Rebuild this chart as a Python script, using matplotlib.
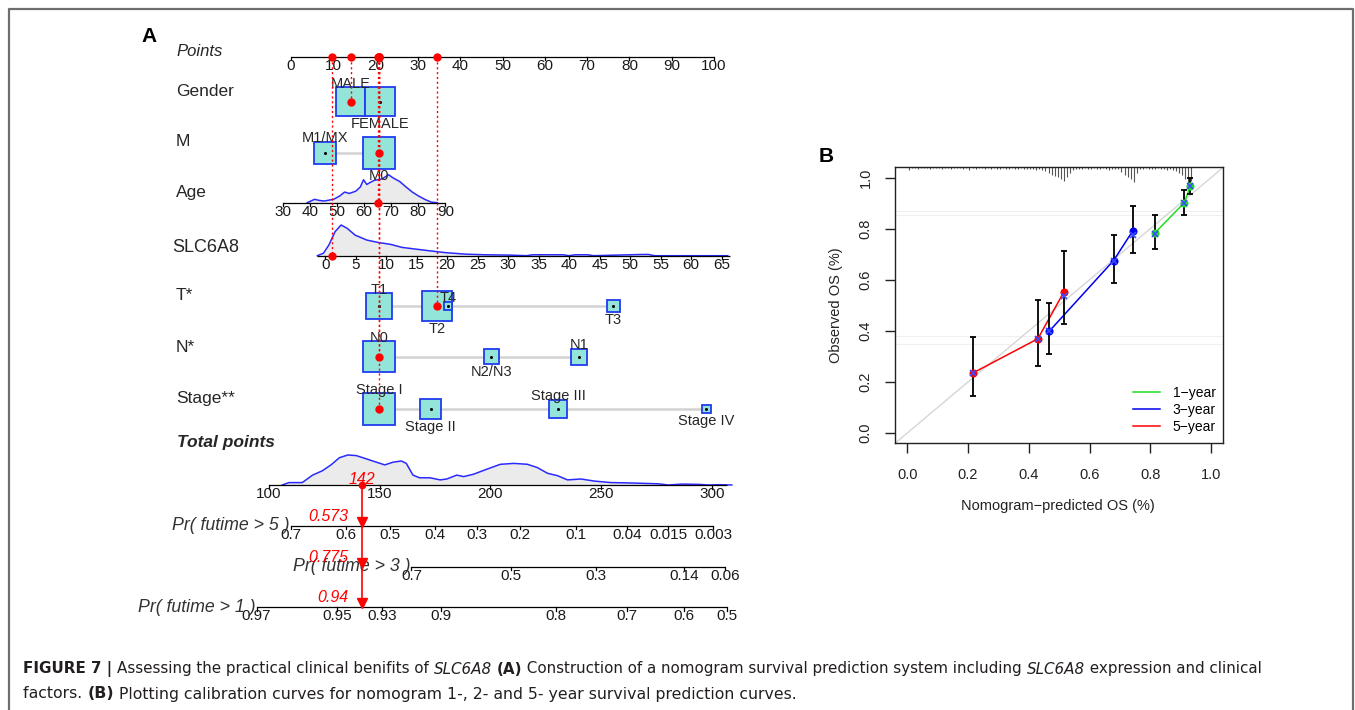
import numpy as np
import matplotlib
matplotlib.use('Agg')
import matplotlib.pyplot as plt
from matplotlib.patches import Rectangle
from matplotlib.lines import Line2D

plt.rcParams['font.family'] = ['Liberation Sans', 'DejaVu Sans']

W, H = 1355, 710

# ---------------- nomogram data (panel A) ----------------
points_ticks = list(range(0, 101, 10))

gender_names = ['MALE', 'FEMALE']
gender_pts = [14.1, 21.0]
gender_w = [0.83, 0.88]          # relative group size (box area)

m_names = ['M1/MX', 'M0']
m_pts = [8.1, 20.8]
m_w = [0.51, 1.0]

age_ticks = [30, 40, 50, 60, 70, 80, 90]
age_zero = 33.0                  # age that scores 0 points
age_slope = 0.64                 # points per year
age_grid = [39, 41.7, 43.5, 45.2, 48.7, 51, 52.8, 54.5, 56.9, 58.6, 59.8, 61, 62,
            63.8, 66.7, 69, 70.8, 73.1, 75.5, 77.8, 80.1, 82.4, 84.8, 87.1]
age_dens = [0, .12, .08, .06, .12, .24, .38, .33, .41, .56, .82, .65, .71,
            .80, .85, 1.0, .88, .76, .56, .38, .24, .12, .02, 0]

slc_ticks = list(range(0, 66, 5))
slc_offset = 8.1
slc_slope = 1.4415
slc_range = (-1.3, 66.3)
slc_grid = [-1.3, -0.3, 0.6, 1.6, 2.6, 3.6, 4.9, 6.8, 8.7, 10.7, 12.6, 14.6, 17.1,
            19.7, 23, 26.2, 30.1, 33, 34, 39, 40, 41, 43, 44, 52, 53, 54, 66]
slc_dens = [0, .08, .35, .78, 1.0, .89, .67, .51, .43, .37, .27, .22, .16,
            .10, .05, .03, .02, 0, .03, .03, 0, .03, .03, 0, .04, .04, 0, 0]

t_names = ['T1', 'T2', 'T4', 'T3']
t_pts = [20.8, 34.5, 37.1, 76.2]
t_w = [0.64, 0.92, 0.075, 0.17]

n_names = ['N0', 'N2/N3', 'N1']
n_pts = [20.8, 47.3, 68.1]
n_w = [1.0, 0.225, 0.26]

stage_names = ['Stage I', 'Stage II', 'Stage III', 'Stage IV']
stage_pts = [20.8, 33.0, 63.2, 98.2]
stage_w = [1.0, 0.42, 0.34, 0.082]

total_ticks = [100, 150, 200, 250, 300]
total_range = (100, 307)
total_x0 = -5.2                  # total 100 expressed on the points scale
total_slope = 0.5235
total_grid = [106, 109, 115, 119.7, 124, 128, 131.8, 135.6, 139.4, 144, 148.5, 152.3,
              156, 159.8, 162, 165, 168, 172.7, 177.3, 180.3, 184.8, 187.9, 192.4,
              198.5, 204.5, 210.6, 216.7, 221.2, 225.8, 230.3, 234.8, 240.9, 247,
              254.5, 262, 275.8, 280.3, 286.4, 294, 298.5, 303, 309]
total_dens = [0, .08, .08, .33, .47, .67, .91, 1.0, .98, .87, .76, .67,
              .76, .80, .72, .33, .24, .24, .17, .20, .33, .28, .36,
              .53, .69, .72, .69, .58, .39, .31, .17, .20, .13,
              .08, .07, .04, 0, .03, .02, 0, .01, 0]

pr5_labels = ['0.7', '0.6', '0.5', '0.4', '0.3', '0.2', '0.1', '0.04', '0.015', '0.003']
pr5_total = [110, 134.7, 154.5, 174.9, 193.9, 213.5, 238.6, 261.7, 280.3, 300.6]
pr3_labels = ['0.7', '0.5', '0.3', '0.14', '0.06']
pr3_total = [164.3, 209.1, 247.5, 287.3, 305.9]
pr1_labels = ['0.97', '0.95', '0.93', '0.9', '0.8', '0.7', '0.6', '0.5']
pr1_total = [94.4, 130.7, 151, 177.6, 229.8, 261.7, 287.3, 306.8]

# example patient
pat_gender = 'MALE'
pat_m = 'M0'
pat_age = 65
pat_slc = 1.1
pat_t = 'T2'
pat_n = 'N0'
pat_stage = 'Stage I'
pat_total = 142
pat_surv = [0.573, 0.775, 0.94]   # 5-, 3-, 1-year

# ---------------- calibration data (panel B) ----------------
cal1_pred = [0.814, 0.912, 0.931]
cal1_obs = [0.782, 0.902, 0.965]
cal1_lo = [0.720, 0.854, 0.936]
cal1_hi = [0.853, 0.952, 0.997]
cal1_corr = [0.780, 0.900, 0.965]

cal3_pred = [0.467, 0.679, 0.742]
cal3_obs = [0.398, 0.675, 0.791]
cal3_lo = [0.310, 0.589, 0.704]
cal3_hi = [0.508, 0.776, 0.887]
cal3_corr = [0.398, 0.675, 0.776]

cal5_pred = [0.216, 0.430, 0.515]
cal5_obs = [0.235, 0.369, 0.551]
cal5_lo = [0.146, 0.261, 0.426]
cal5_hi = [0.375, 0.519, 0.711]
cal5_corr = [0.235, 0.369, 0.535]

# distribution of predicted values (counts per 0.01 bin, 0.00 - 0.93)
rug_counts = [3, 1, 1, 2, 1, 1, 1, 2, 1, 1,
              1, 2, 1, 1, 2, 1, 1, 1, 2, 1,
              3, 1, 2, 1, 1, 2, 1, 2, 1, 2,
              2, 1, 2, 2, 1, 2, 2, 1, 2, 2,
              2, 2, 3, 2, 3, 4, 6, 8, 9, 10,
              12, 14, 10, 6, 3, 2, 2, 2, 1, 2,
              2, 1, 2, 2, 1, 2, 3, 2, 2, 2,
              5, 8, 10, 12, 15, 6, 2, 2, 1, 2,
              2, 2, 1, 2, 2, 3, 2, 3, 4, 6,
              8, 12, 20, 14]

# ---------------- figure ----------------
fig = plt.figure(figsize=(W / 100, H / 100), dpi=100)
fig.patch.set_facecolor('white')


def fx(x):
    return x / W


def fy(y):
    return 1 - y / H


# outer frame (open at the bottom)
fig.add_artist(Line2D([fx(9), fx(9), fx(1353), fx(1353)], [fy(712), fy(9), fy(9), fy(712)],
                      transform=fig.transFigure, color='#6e6e6e', lw=1.6))

# ---- panel A: x in nomogram points, y in pixels ----
P0, PPP = 291.0, 4.23          # pixel of 0 points, pixels per point


def px2pt(px):
    return (px - P0) / PPP


axA = fig.add_axes([fx(130), fy(640), 630 / W, 620 / H])
axA.set_xlim(px2pt(130), px2pt(760))
axA.set_ylim(640, 20)
axA.axis('off')

TXT = '#262626'
BOX_FC = '#93E5DA'
BOX_EC = '#1f3cf0'
BOX_MAX = 31.4
DENS_LINE = '#2a2aff'
DENS_FILL = '#ebebeb'

Y = dict(points=56.5, gender=101.7, m=152.8, age=202.7, slc=255.7, t=306, n=356.7,
         stage=409, total=485, pr5=525.7, pr3=566.7, pr1=607)


def age_pts(a):
    return age_slope * (np.asarray(a, float) - age_zero)


def slc_pts(v):
    return slc_offset + slc_slope * np.asarray(v, float)


def tot_x(t):
    return total_x0 + total_slope * (np.asarray(t, float) - 100)


def nomo_axis(y, x0, x1, tick_x, tick_lab, fs=11):
    axA.plot([x0, x1], [y, y], color='black', lw=0.9, solid_capstyle='butt', zorder=3)
    for tx, tl in zip(tick_x, tick_lab):
        axA.plot([tx, tx], [y, y + 3.5], color='black', lw=0.9, zorder=3)
        axA.text(tx, y + 9.5, tl, ha='center', va='center', fontsize=fs, color='#1a1a1a')


def row_label(y, s, px=176, **kw):
    axA.text(px2pt(px), y, s, ha='left', va='center', color=TXT, **kw)


def cat_row(y, names, pts, weights):
    axA.plot([min(pts), max(pts)], [y, y], color='#d2d2d2', lw=1.8, zorder=1)
    order = np.argsort(pts)
    for rank, i in enumerate(order):
        side = BOX_MAX * np.sqrt(weights[i])
        hw = side / 2 / PPP
        axA.add_patch(Rectangle((pts[i] - hw, y - side / 2), 2 * hw, side,
                                fc=BOX_FC, ec=BOX_EC, lw=1.3, zorder=2))
        axA.plot(pts[i], y, 'o', color='black', ms=1.2, zorder=2.5)
        if rank % 2 == 0:
            axA.text(pts[i], y - side / 2 + 0.5, names[i], ha='center', va='baseline',
                     fontsize=10.5, color=TXT, zorder=4)
        else:
            axA.text(pts[i], y + side / 2 + 0.5, names[i], ha='center', va='top',
                     fontsize=10.5, color=TXT, zorder=4)


def density(y, xs, rel, peak):
    xs = np.asarray(xs, float)
    top = y - np.asarray(rel, float) * peak
    axA.fill_between(xs, y, top, color=DENS_FILL, lw=0, zorder=1)
    axA.plot(xs, top, color=DENS_LINE, lw=1.1, zorder=2)


# panel letter
fig.text(fx(149), fy(36), 'A', fontsize=15, fontweight='bold', ha='center', va='center')

# Points
row_label(52, 'Points', fontsize=12, fontstyle='italic')
nomo_axis(Y['points'], 0, 100, points_ticks, [str(p) for p in points_ticks])

# Gender / M
row_label(91, 'Gender', fontsize=12.5)
cat_row(Y['gender'], gender_names, gender_pts, gender_w)
row_label(142, 'M', fontsize=12.5)
cat_row(Y['m'], m_names, m_pts, m_w)

# Age
row_label(193, 'Age', fontsize=12.5)
density(Y['age'], age_pts(age_grid), age_dens, 28)
nomo_axis(Y['age'], age_pts(age_ticks[0]), age_pts(age_ticks[-1]), age_pts(age_ticks),
          [str(a) for a in age_ticks])

# SLC6A8
row_label(247, 'SLC6A8', px=172, fontsize=13)
density(Y['slc'], slc_pts(slc_grid), slc_dens, 30.7)
nomo_axis(Y['slc'], slc_pts(slc_range[0]), slc_pts(slc_range[1]), slc_pts(slc_ticks),
          [str(v) for v in slc_ticks])

# T / N / Stage
row_label(295, 'T*', fontsize=12.5)
cat_row(Y['t'], t_names, t_pts, t_w)
row_label(347, 'N*', fontsize=12.5)
cat_row(Y['n'], n_names, n_pts, n_w)
row_label(398, 'Stage**', fontsize=12.5)
cat_row(Y['stage'], stage_names, stage_pts, stage_w)

# Total points
row_label(442, 'Total points', px=177, fontsize=12.5, fontweight='bold', fontstyle='italic')
density(Y['total'], tot_x(total_grid), total_dens, 30)
nomo_axis(Y['total'], tot_x(total_range[0]), tot_x(total_range[1]), tot_x(total_ticks),
          [str(t) for t in total_ticks])

# survival probability scales
for key, labs, tots, name in [('pr5', pr5_labels, pr5_total, 'Pr( futime > 5 )'),
                              ('pr3', pr3_labels, pr3_total, 'Pr( futime > 3 )'),
                              ('pr1', pr1_labels, pr1_total, 'Pr( futime > 1 )')]:
    xs = tot_x(tots)
    nomo_axis(Y[key], xs[0], xs[-1], xs, labs)
    axA.text(xs[0] - 0.3, Y[key], name, ha='right', va='center', fontsize=12.8,
             fontstyle='italic', color='#333333')

# patient: red points and dotted guides
pat_points = [
    (gender_pts[gender_names.index(pat_gender)], Y['gender']),
    (m_pts[m_names.index(pat_m)], Y['m']),
    (float(age_pts(pat_age)), Y['age']),
    (float(slc_pts(pat_slc)), Y['slc']),
    (t_pts[t_names.index(pat_t)], Y['t']),
    (n_pts[n_names.index(pat_n)], Y['n']),
    (stage_pts[stage_names.index(pat_stage)], Y['stage']),
]
for px_, py_ in pat_points:
    axA.plot([px_, px_], [Y['points'], py_], color='red', lw=1.0, ls=(0, (1.5, 2)), zorder=5)
    axA.plot(px_, py_, 'o', color='red', ms=5, zorder=6)
    axA.plot(px_, Y['points'], 'o', color='red', ms=5, zorder=6)

xt = float(tot_x(pat_total))
axA.plot([xt, xt], [Y['total'], Y['pr1']], color='red', lw=1.2, zorder=5)
axA.plot(xt, Y['total'], 'o', color='red', ms=4.5, zorder=6)
axA.text(xt, Y['total'] - 6, str(pat_total), ha='center', va='center', fontsize=11.5,
         fontstyle='italic', color='red', zorder=7)
for key, p in zip(['pr5', 'pr3', 'pr1'], pat_surv):
    axA.plot(xt, Y[key] - 4.2, 'v', color='red', ms=6.5, zorder=6)
    axA.text(xt - 3.3, Y[key] - 9, f'{p:g}', ha='right', va='center', fontsize=11.5,
             fontstyle='italic', color='red', zorder=7)

# ---- panel B: calibration ----
axB = fig.add_axes([fx(895), fy(443.3), 328.3 / W, 276 / H])
lim = (-0.04, 1.04)
axB.set_xlim(lim)
axB.set_ylim(lim)
axB.plot(lim, lim, color='#d6d6d6', lw=1.0, zorder=1)
for yy in [0.868, 0.852, 0.381, 0.349]:
    axB.axhline(yy, color='#f0f0f0', lw=0.8, zorder=0)

rug_x = np.arange(len(rug_counts)) * 0.01 + 0.005
rug_h = np.asarray(rug_counts) * 0.0039
axB.vlines(rug_x, lim[1] - rug_h, lim[1], color='#555555', lw=0.8, zorder=2)

GREEN, BLUE, RED = '#22dd22', '#0000ee', '#ff0000'
for pred, obs, lo, hi, corr, col in [
        (cal1_pred, cal1_obs, cal1_lo, cal1_hi, cal1_corr, GREEN),
        (cal3_pred, cal3_obs, cal3_lo, cal3_hi, cal3_corr, BLUE),
        (cal5_pred, cal5_obs, cal5_lo, cal5_hi, cal5_corr, RED)]:
    pred, obs, lo, hi = map(np.asarray, (pred, obs, lo, hi))
    axB.plot(pred, obs, color=col, lw=1.1, zorder=3)
    axB.errorbar(pred, obs, yerr=[obs - lo, hi - obs], fmt='none', ecolor='black',
                 elinewidth=1.3, capsize=2.5, capthick=1.3, zorder=4)
    axB.plot(pred, obs, 'o', color=col, ms=4.8, zorder=5)
    axB.plot(pred, corr, 'x', color='#3a4cff', ms=5, mew=1.2, zorder=6)

ticks = [0.0, 0.2, 0.4, 0.6, 0.8, 1.0]
axB.set_xticks(ticks)
axB.set_xticklabels([f'{t:.1f}' for t in ticks])
axB.set_yticks(ticks)
axB.set_yticklabels([f'{t:.1f}' for t in ticks], rotation=90, va='center')
axB.tick_params(direction='out', length=7, width=1, labelsize=10.5, colors='#222222')
axB.tick_params(axis='x', pad=11)
axB.tick_params(axis='y', pad=9)
for sp in axB.spines.values():
    sp.set_linewidth(1.0)
    sp.set_color('#222222')

handles = [Line2D([], [], color=c, lw=1.1) for c in (GREEN, BLUE, RED)]
axB.legend(handles, ['1\u2212year', '3\u2212year', '5\u2212year'], loc='lower right',
           bbox_to_anchor=(0.994, 0.014), frameon=False, fontsize=10, handlelength=1.95,
           handletextpad=0.9, labelspacing=0.22, borderaxespad=0)

fig.text(fx(826), fy(157), 'B', fontsize=15, fontweight='bold', ha='center', va='center')
fig.text(fx(836), fy(305), 'Observed OS (%)', rotation=90, ha='center', va='center',
         fontsize=10.5, color='#222222')
fig.text(fx(1058), fy(506), 'Nomogram\u2212predicted OS (%)', ha='center', va='center',
         fontsize=10.5, color='#222222')

# ---- caption ----
cap1 = [('FIGURE 7 | ', 'bold', 'normal'),
        ('Assessing the practical clinical benifits of ', 'normal', 'normal'),
        ('SLC6A8', 'normal', 'italic'),
        (' ', 'normal', 'normal'),
        ('(A)', 'bold', 'normal'),
        (' Construction of a nomogram survival prediction system including ', 'normal', 'normal'),
        ('SLC6A8', 'normal', 'italic'),
        (' expression and clinical', 'normal', 'normal')]
cap2 = [('factors. ', 'normal', 'normal'),
        ('(B)', 'bold', 'normal'),
        (' Plotting calibration curves for nomogram 1-, 2- and 5- year survival prediction curves.',
         'normal', 'normal')]

renderer = fig.canvas.get_renderer()


def rich_line(segs, x0, y, fs):
    x = x0
    arts = []
    for s, wgt, sty in segs:
        t = fig.text(x / W, fy(y), s, fontsize=fs, fontweight=wgt, fontstyle=sty,
                     ha='left', va='center', color='#231f20', family='DejaVu Sans')
        x = t.get_window_extent(renderer).x1
        arts.append(t)
    return arts, x - x0


def fitted_line(segs, x0, x1, y, fs0=9.5):
    arts, w = rich_line(segs, x0, y, fs0)
    for a in arts:
        a.remove()
    rich_line(segs, x0, y, fs0 * (x1 - x0) / w)


fitted_line(cap1, 23, 1279, 669)
fitted_line(cap2, 23, 806, 694)

fig.savefig('out.png', dpi=100)
